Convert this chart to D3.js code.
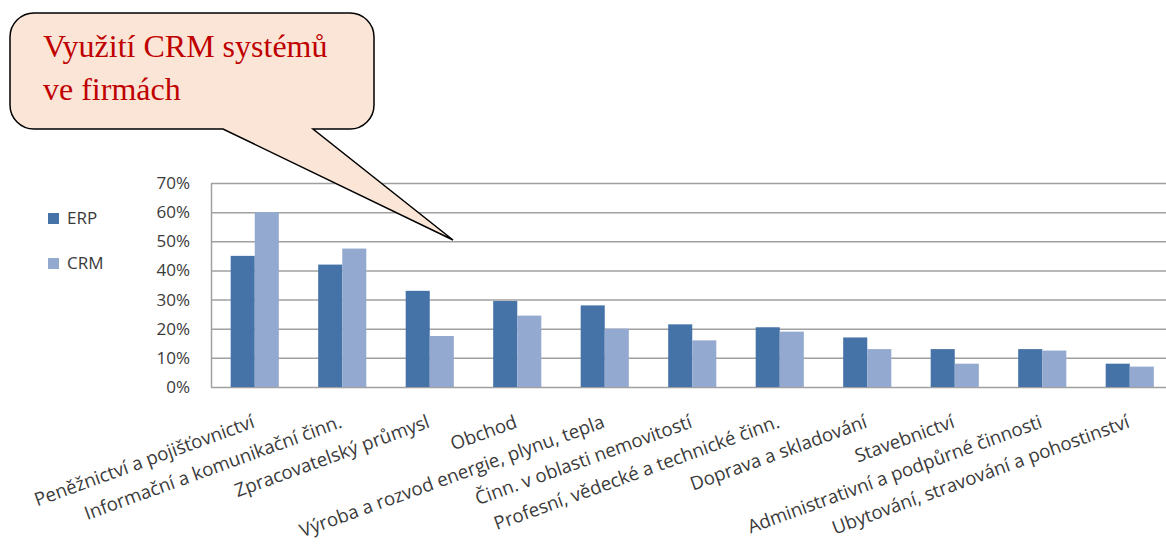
<!DOCTYPE html>
<html>
<head>
    <meta charset="utf-8">
    <title>Využití CRM systémů</title>
    <script src="https://d3js.org/d3.v7.min.js"></script>
    <style>
        body { margin: 0; background: #fff; }
        svg { display: block; }
    </style>
</head>
<body>
<script>
    var width = 1166,
        height = 546,
        erpColor = "#4572a7",
        crmColor = "#93a9cf",
        gridColor = "#a0a0a0",
        textColor = "#3a3a3a",
        labelFont = "'Open Sans', Lato, sans-serif";

    // data (share of firms)
    var categories = [
        "Peněžnictví a pojišťovnictví",
        "Informační a komunikační činn.",
        "Zpracovatelský průmysl",
        "Obchod",
        "Výroba a rozvod energie, plynu, tepla",
        "Činn. v oblasti nemovitostí",
        "Profesní, vědecké a technické činn.",
        "Doprava a skladování",
        "Stavebnictví",
        "Administrativní  a podpůrné činnosti",
        "Ubytování, stravování a pohostinství"
    ];
    var seriesNames = ["ERP", "CRM"];
    var erpValues = [0.45, 0.42, 0.33, 0.295, 0.28, 0.215, 0.205, 0.17, 0.13, 0.13, 0.08];
    var crmValues = [0.60, 0.475, 0.175, 0.245, 0.20, 0.16, 0.19, 0.13, 0.08, 0.125, 0.07];
    var yTicks = [0, 0.1, 0.2, 0.3, 0.4, 0.5, 0.6, 0.7];
    var titleLines = ["Využití CRM systémů", "ve firmách"];

    var plotLeft = 211, plotTop = 183, plotBottom = 387, plotRight = 1173.5;

    var svg = d3.select("body").append("svg")
        .attr("width", width)
        .attr("height", height);

    var x = d3.scaleBand()
        .domain(categories)
        .range([plotLeft, plotRight])
        .paddingInner(0.45)
        .paddingOuter(0.225);

    var xs = d3.scaleBand()
        .domain(seriesNames)
        .range([0, x.bandwidth()]);

    var y = d3.scaleLinear()
        .domain([0, 0.7])
        .range([plotBottom, plotTop]);

    var color = d3.scaleOrdinal()
        .domain(seriesNames)
        .range([erpColor, crmColor]);

    // y axis with gridlines
    var yAxis = svg.append("g")
        .attr("transform", "translate(" + plotLeft + ",0)")
        .call(d3.axisLeft(y)
            .tickValues(yTicks)
            .tickFormat(d3.format(".0%"))
            .tickSize(-(width - plotLeft))
            .tickSizeOuter(0)
            .tickPadding(21));

    yAxis.select(".domain").attr("stroke", gridColor).attr("stroke-width", 1.5);
    yAxis.selectAll(".tick line").attr("stroke", gridColor).attr("stroke-width", 1.5);
    yAxis.selectAll(".tick text")
        .attr("fill", textColor)
        .style("font-family", labelFont)
        .style("font-size", "17px");

    // bars
    var rows = categories.map(function (c, i) {
        return { cat: c, values: [
            { key: "ERP", value: erpValues[i] },
            { key: "CRM", value: crmValues[i] }
        ] };
    });

    var groups = svg.append("g").selectAll("g")
        .data(rows)
        .enter().append("g")
        .attr("transform", function (d) { return "translate(" + x(d.cat) + ",0)"; });

    groups.selectAll("rect")
        .data(function (d) { return d.values; })
        .enter().append("rect")
        .attr("x", function (d) { return xs(d.key); })
        .attr("y", function (d) { return y(d.value); })
        .attr("width", xs.bandwidth())
        .attr("height", function (d) { return plotBottom - y(d.value); })
        .attr("fill", function (d) { return color(d.key); });

    // category labels, rotated
    svg.append("g").selectAll("text")
        .data(categories)
        .enter().append("text")
        .attr("transform", function (d) {
            return "translate(" + (x(d) + x.bandwidth() / 2 + 1) + "," + 427 + ") rotate(-20)";
        })
        .attr("text-anchor", "end")
        .attr("fill", textColor)
        .style("font-family", labelFont)
        .style("font-size", "18.7px")
        .text(function (d) { return d; });

    // legend
    var legend = svg.append("g").selectAll("g")
        .data(seriesNames)
        .enter().append("g")
        .attr("transform", function (d, i) { return "translate(48," + (213 + i * 45) + ")"; });

    legend.append("rect")
        .attr("width", 11)
        .attr("height", 11)
        .attr("fill", function (d) { return color(d); });

    legend.append("text")
        .attr("x", 19)
        .attr("y", 5.5)
        .attr("dy", "0.35em")
        .attr("fill", textColor)
        .style("font-family", labelFont)
        .style("font-size", "17px")
        .text(function (d) { return d; });

    // callout with the title
    var bx0 = 10, by0 = 13, bx1 = 374, by1 = 129, r = 24;
    var p = d3.path();
    p.moveTo(bx0 + r, by0);
    p.lineTo(bx1 - r, by0);
    p.arcTo(bx1, by0, bx1, by0 + r, r);
    p.lineTo(bx1, by1 - r);
    p.arcTo(bx1, by1, bx1 - r, by1, r);
    p.lineTo(313, by1);
    p.lineTo(453, 240);
    p.lineTo(223, by1);
    p.lineTo(bx0 + r, by1);
    p.arcTo(bx0, by1, bx0, by1 - r, r);
    p.lineTo(bx0, by0 + r);
    p.arcTo(bx0, by0, bx0 + r, by0, r);
    p.closePath();

    svg.append("path")
        .attr("d", p.toString())
        .attr("fill", "#fbe5d6")
        .attr("stroke", "#000")
        .attr("stroke-width", 1.5);

    svg.append("g").selectAll("text")
        .data(titleLines)
        .enter().append("text")
        .attr("x", 43)
        .attr("y", function (d, i) { return 57 + i * 43; })
        .attr("fill", "#c00000")
        .style("font-family", "'Liberation Serif', 'Times New Roman', serif")
        .style("font-size", "32px")
        .text(function (d) { return d; });
</script>
</body>
</html>
